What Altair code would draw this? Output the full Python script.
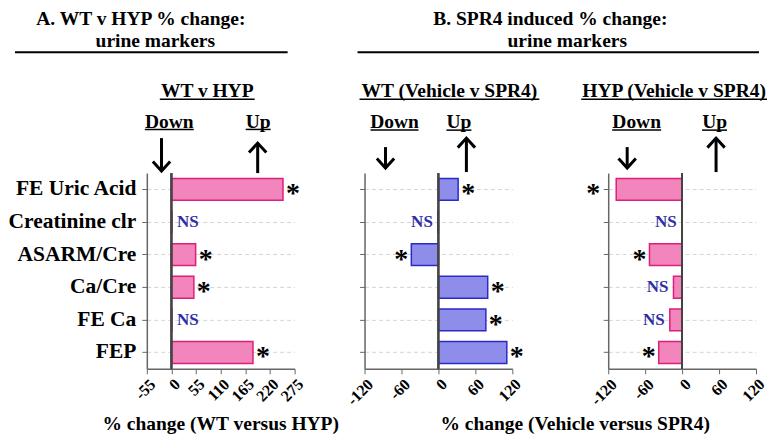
import altair as alt
import pandas as pd

categories = ["FE Uric Acid", "Creatinine clr", "ASARM/Cre", "Ca/Cre", "FE Ca", "FEP"]
wt_v_hyp = [249, 1, 54, 50, 1, 182]
wt_v_hyp_sig = ["*", "NS", "*", "*", "NS", "*"]
wt_spr4 = [32, -1, -44, 80, 77, 111]
wt_spr4_sig = ["*", "NS", "*", "*", "*", "*"]
hyp_spr4 = [-107, -0.5, -53, -14, -20, -38]
hyp_spr4_sig = ["*", "NS", "*", "NS", "NS", "*"]
ticks_a = [-55, 0, 55, 110, 165, 220, 275]
ticks_b = [-120, -60, 0, 60, 120]

FONT = "'Liberation Serif', 'Times New Roman', Times, serif"
PINK_FILL, PINK_STROKE = "#F285BC", "#DC1F78"
BLUE_FILL, BLUE_STROKE = "#8E8EEA", "#2A2AC8"
NS_COLOR = "#2E2EA6"
AXIS_COLOR = "#666666"
W, H = 148, 196
one = pd.DataFrame({"k": [0]})


def text(t, x, y, size=19.5, align="center", color="black"):
    return alt.Chart(one).mark_text(
        text=t, font=FONT, fontWeight="bold", fontSize=size, align=align,
        baseline="middle", color=color
    ).encode(x=alt.value(x), y=alt.value(y))


def hline(x1, x2, y, sw=1.5):
    return alt.Chart(one).mark_rule(color="black", strokeWidth=sw).encode(
        x=alt.value(x1), x2=alt.value(x2), y=alt.value(y))


def arrow(x, y_tip, y_tail):
    down = y_tip > y_tail
    if down:
        shaft = alt.Chart(one).mark_rule(color="black", strokeWidth=3).encode(
            x=alt.value(x), y=alt.value(y_tail), y2=alt.value(y_tip - 1.5))
        shape = "M -1 -1.1 L 0 0 L 1 -1.1"
    else:
        shaft = alt.Chart(one).mark_rule(color="black", strokeWidth=3).encode(
            x=alt.value(x), y=alt.value(y_tip + 1.5), y2=alt.value(y_tail))
        shape = "M -1 1.1 L 0 0 L 1 1.1"
    head = alt.Chart(one).mark_point(
        shape=shape, filled=False, size=300, strokeWidth=3, color="black",
        opacity=1, strokeJoin="miter"
    ).encode(x=alt.value(x), y=alt.value(y_tip))
    return shaft + head


def panel(values, sigs, fill, stroke, ticks, domain, show_labels, annotations, far_neg_dx=-10):
    df = pd.DataFrame({"category": categories, "value": values, "sig": sigs})
    base = alt.Chart(df)
    yaxis = alt.Axis(
        title=None, labels=show_labels, labelFont=FONT, labelFontWeight="bold",
        labelFontSize=21.5, labelColor="black", labelPadding=6, labelLimit=0,
        tickSize=5, tickColor=AXIS_COLOR, domainColor=AXIS_COLOR, domainWidth=1.5,
        grid=True, gridDash=[4, 3], gridColor="#d4d4d4", bandPosition=0.5)
    xaxis = alt.Axis(
        title=None, values=ticks, labelAngle=315, labelFont=FONT,
        labelFontWeight="bold", labelFontSize=16, labelColor="black",
        labelExpr="'' + datum.value",
        grid=False, tickSize=5, tickColor=AXIS_COLOR, domainColor=AXIS_COLOR,
        domainWidth=1.5, labelPadding=2, labelOverlap=False, labelFlush=False)
    y = alt.Y("category:N", sort=categories, axis=yaxis,
              scale=alt.Scale(paddingInner=0.33, paddingOuter=0.165))
    x = alt.X("value:Q", axis=xaxis, scale=alt.Scale(domain=domain, nice=False))
    bars = base.mark_bar(fill=fill, stroke=stroke, strokeWidth=1.5).encode(x=x, y=y)
    zero = base.mark_rule(color="#444444", strokeWidth=1.5).encode(
        x=alt.X("zero:Q", axis=xaxis)).transform_calculate(zero="0")

    def sig_text(cond, dx, align, size, color, dy):
        return base.transform_filter(cond).mark_text(
            align=align, baseline="middle", dx=dx, dy=dy, font=FONT,
            fontWeight="bold", fontSize=size, color=color
        ).encode(x=x, y=y, text="sig:N")

    layers = [
        bars, zero,
        sig_text("datum.sig == '*' && datum.value >= 0", 10, "center", 28, "black", 5),
        sig_text("datum.sig == '*' && datum.value < 0 && datum.value > -100", -10, "center", 28, "black", 5),
        sig_text("datum.sig == '*' && datum.value <= -100", far_neg_dx, "center", 28, "black", 5),
        sig_text("datum.sig == 'NS' && datum.value >= 0", 5, "left", 17, NS_COLOR, 0),
        sig_text("datum.sig == 'NS' && datum.value < 0", -5, "right", 17, NS_COLOR, 0),
    ]
    return alt.layer(*layers, *annotations).properties(width=W, height=H)


ann_a = [
    text("A.  WT v HYP % change:", -6, -154.6),
    text("urine markers", 8.5, -132),
    hline(-132, 141, -121, 2),
    text("WT v HYP", 60.5, -82), hline(13, 108, -74),
    text("Down", 22.5, -50.7), hline(-2, 47, -43.7),
    text("Up", 111.5, -50.7), hline(99, 124, -43.7),
    arrow(14.7, -2, -35), arrow(111, -30, 0),
    text("% change (WT versus HYP)", 74, 251),
]
ann_wt = [
    text("B.  SPR4 induced % change:", 186, -154),
    text("urine markers", 203, -132),
    hline(-7, 395, -121, 2),
    text("WT (Vehicle v SPR4)", 85, -82), hline(-5, 175, -74),
    text("Down", 30, -50.7), hline(6, 54, -43),
    text("Up", 94.5, -50.7), hline(82, 107, -43),
    arrow(21, -5, -26), arrow(102, -35, -1),
    text("% change (Vehicle versus SPR4)", 211, 251),
]
ann_hyp = [
    text("HYP (Vehicle v SPR4)", 66, -82), hline(-27, 159, -74),
    text("Down", 28.5, -50.7), hline(4, 53, -43),
    text("Up", 106.5, -50.7), hline(94, 119, -43),
    arrow(19, -5, -26), arrow(108, -35, -1),
]

pA = panel(wt_v_hyp, wt_v_hyp_sig, PINK_FILL, PINK_STROKE, ticks_a, [-55, 275], True, ann_a)
pWT = panel(wt_spr4, wt_spr4_sig, BLUE_FILL, BLUE_STROKE, ticks_b, [-120, 120], False, ann_wt)
pHYP = panel(hyp_spr4, hyp_spr4_sig, PINK_FILL, PINK_STROKE, ticks_b, [-120, 120], False, ann_hyp, far_neg_dx=-23)

chart = alt.hconcat(
    pA,
    alt.hconcat(pWT, pHYP, spacing=96, bounds="flush"),
    spacing=70, bounds="flush"
).properties(padding=0).configure_view(stroke=None)

chart.save("out.html", embed_options={"renderer": "svg", "actions": False})
